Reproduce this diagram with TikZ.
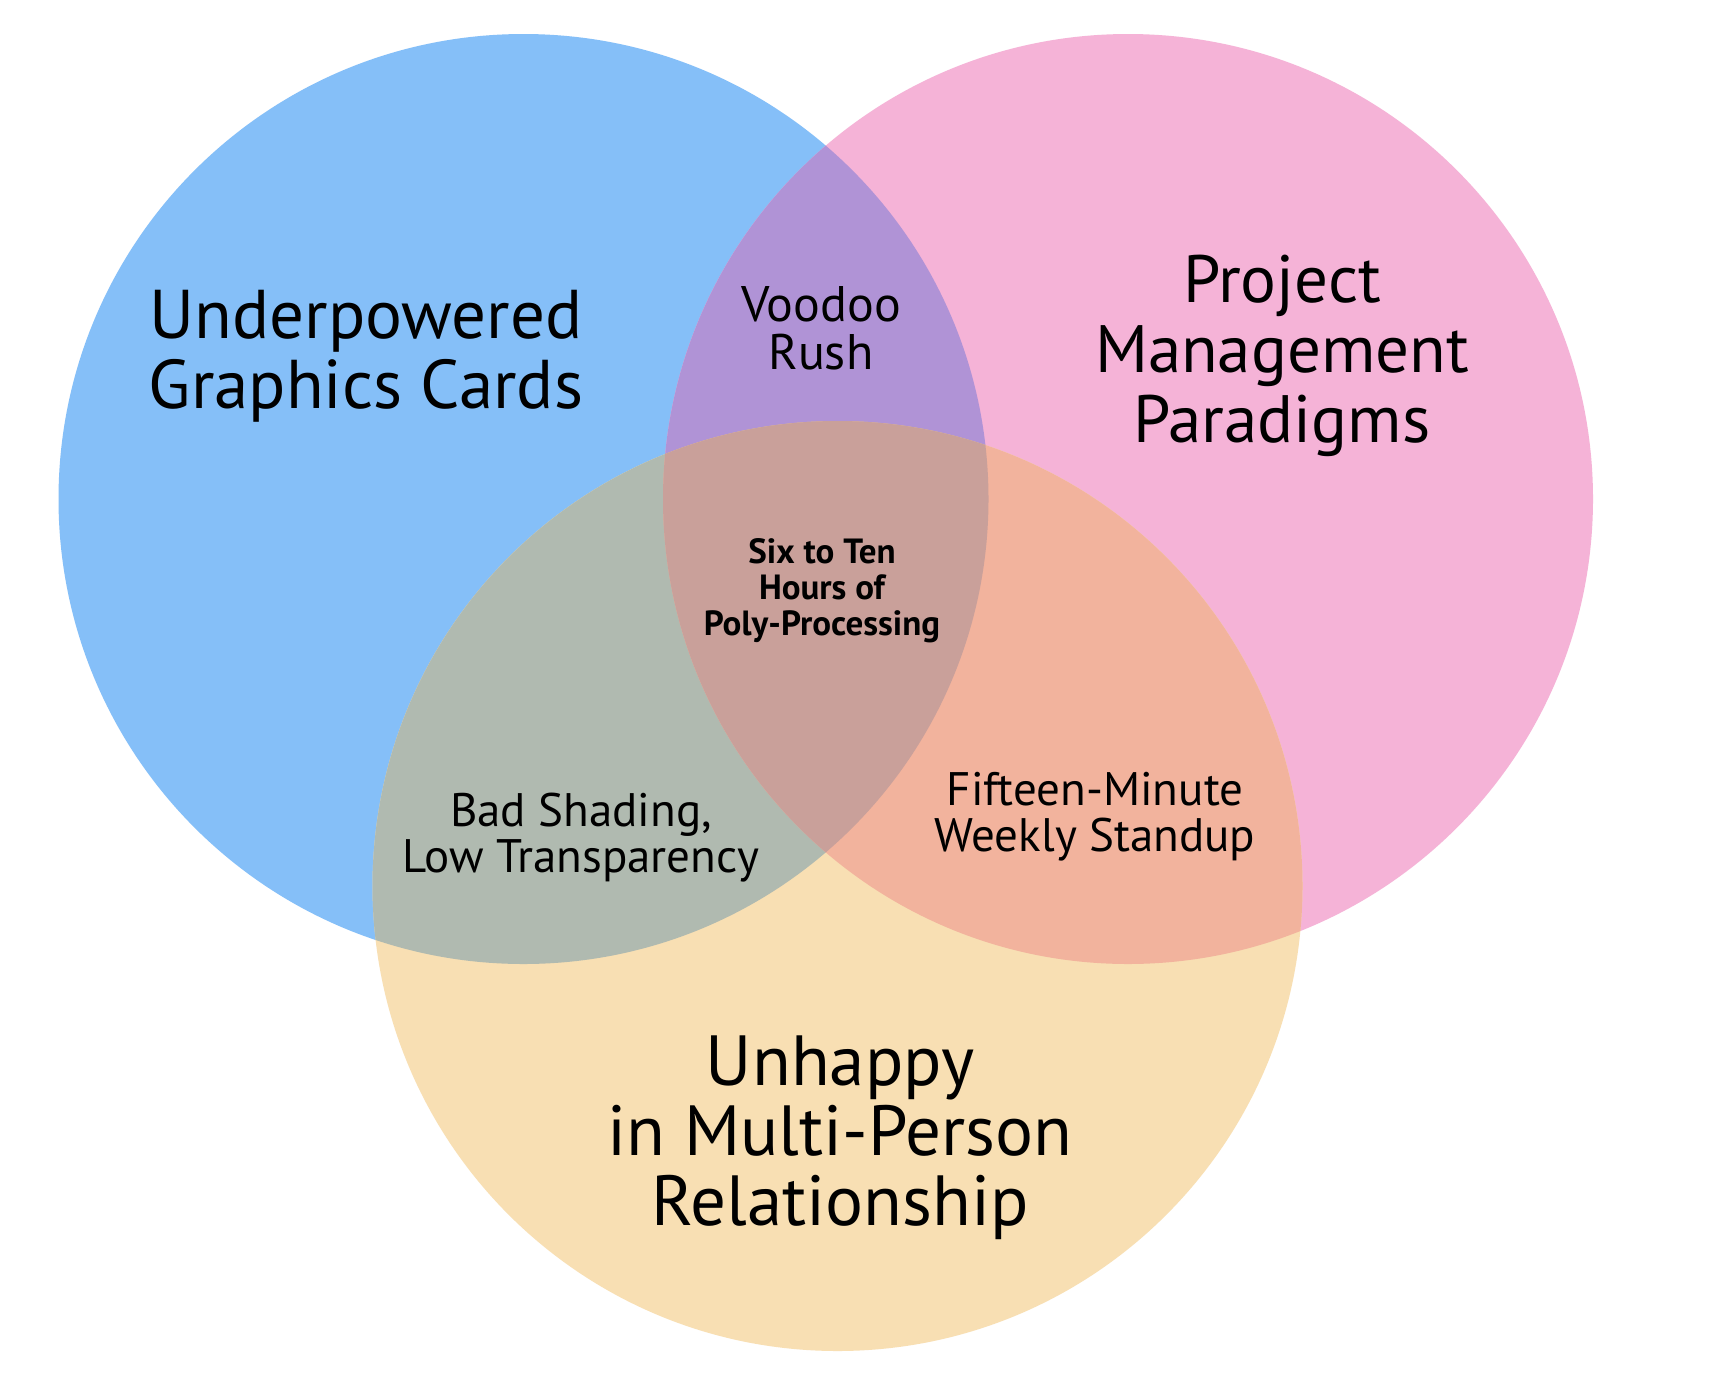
\documentclass[tikz,border=0pt]{standalone}
\usepackage{fontspec}
\setmainfont{PT Sans}
\definecolor{cB}{RGB}{133,191,248}
\definecolor{cP}{RGB}{245,179,215}
\definecolor{cO}{RGB}{248,223,179}
\definecolor{cBP}{RGB}{176,147,214}
\definecolor{cBO}{RGB}{176,186,176}
\definecolor{cPO}{RGB}{242,179,157}
\definecolor{cBPO}{RGB}{201,160,154}
\begin{document}
\begin{tikzpicture}[x=1pt,y=-1pt,
  big/.style={align=center,inner sep=0pt,font=\fontsize{71}{70}\selectfont},
  mid/.style={align=center,inner sep=0pt,font=\fontsize{50}{48}\selectfont},
  small/.style={align=center,inner sep=0pt,font=\fontsize{47}{46}\selectfont},
  core/.style={align=center,inner sep=0pt,font=\bfseries\fontsize{35}{36}\selectfont}]
\useasboundingbox (0,0) rectangle (1728,1398);
\fill[white] (0,0) rectangle (1728,1398);
\def\R{465}
\coordinate (cb) at (523.5,499);
\coordinate (cp) at (1128,499);
\coordinate (co) at (837.5,886);
\fill[cB] (cb) circle (\R);
\fill[cP] (cp) circle (\R);
\fill[cO] (co) circle (\R);
\begin{scope}\clip (cb) circle (\R); \fill[cBP] (cp) circle (\R);\end{scope}
\begin{scope}\clip (cb) circle (\R); \fill[cBO] (co) circle (\R);\end{scope}
\begin{scope}\clip (cp) circle (\R); \fill[cPO] (co) circle (\R);\end{scope}
\begin{scope}\clip (cb) circle (\R); \clip (cp) circle (\R); \fill[cBPO] (co) circle (\R);\end{scope}
\node[big,font=\fontsize{69}{70}\selectfont] (gpu) at (366,356) {Underpowered\\Graphics Cards};
\node[big,font=\fontsize{67}{70}\selectfont] (pm) at (1282,356) {Project\\Management\\Paradigms};
\node[big] (rel) at (840,1138) {Unhappy\\in Multi-Person\\Relationship};
\node[mid] (voodoo) at (821,328) {Voodoo\\Rush};
\node[small] (shade) at (581,838) {Bad Shading,\\Low Transparency};
\node[small] (standup) at (1095,817) {Fifteen-Minute\\Weekly Standup};
\node[core] (poly) at (822,591) {Six to Ten\\Hours of\\Poly-Processing};
\end{tikzpicture}
\end{document}
